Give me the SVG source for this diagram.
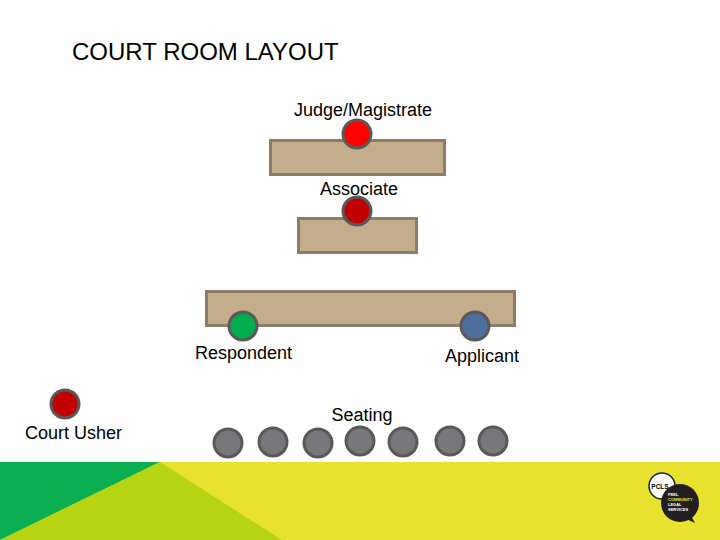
<svg xmlns="http://www.w3.org/2000/svg" width="720" height="540" viewBox="0 0 720 540">
<style>
text{font-family:"Liberation Sans",Arial,sans-serif;fill:#000;font-size:18px}
.b{fill:#c4ad8b;stroke:#8c7d69;stroke-width:3}
.p{stroke:#595959;stroke-width:3}
.s{fill:#77787b}
</style>
<rect width="720" height="540" fill="#fff"/>
<g id="footer">
<rect x="0" y="462" width="720" height="78" fill="#e8e22f"/>
<polygon points="0,462 160,462 0,540" fill="#0bae50"/>
<polygon points="160,462 282,540 0,540" fill="#b7d412"/>
</g>
<g id="logo">
<circle cx="662" cy="486" r="13" fill="#fff" stroke="#222" stroke-width="1.5"/>
<text x="660" y="489" text-anchor="middle" style="font-size:6.500px;font-weight:bold">PCLS</text>
<circle cx="680" cy="503" r="19" fill="#231f20"/>
<polygon points="684,518 695,523 688,510" fill="#231f20"/>
<g style="font-weight:bold">
<text x="668" y="496" style="font-size:4px;fill:#fff">PEEL</text>
<text x="668" y="501" style="font-size:4px;fill:#e8e22f">COMMUNITY</text>
<text x="668" y="506" style="font-size:4px;fill:#fff">LEGAL</text>
<text x="668" y="511" style="font-size:4px;fill:#fff">SERVICES</text>
</g>
</g>
<text id="title" x="72" y="60" style="font-size:24px">COURT ROOM LAYOUT</text>
<g id="bench"><rect class="b" x="270.500" y="140.500" width="174" height="34"/></g>
<g id="associate-desk"><rect class="b" x="298.500" y="218.500" width="118" height="34"/></g>
<g id="bar-table"><rect class="b" x="206.500" y="291.500" width="308" height="34"/></g>
<g id="judge"><circle class="p" cx="357" cy="134" r="14" fill="#fe0000"/><text x="363" y="115.500" text-anchor="middle">Judge/Magistrate</text></g>
<g id="associate"><circle class="p" cx="357" cy="211" r="14" fill="#c00000"/><text x="359" y="194.500" text-anchor="middle">Associate</text></g>
<g id="respondent"><circle class="p" cx="243" cy="326" r="14" fill="#00ae50"/><text x="243.500" y="359" text-anchor="middle">Respondent</text></g>
<g id="applicant"><circle class="p" cx="475" cy="326" r="14" fill="#4f6f9f"/><text x="482" y="361.500" text-anchor="middle">Applicant</text></g>
<g id="usher"><circle class="p" cx="65" cy="404" r="14" fill="#c00000"/><text x="73.500" y="439" text-anchor="middle">Court Usher</text></g>
<g id="seating">
<text x="362" y="421" text-anchor="middle">Seating</text>
<circle class="p s" cx="228" cy="443" r="14"/>
<circle class="p s" cx="273" cy="442" r="14"/>
<circle class="p s" cx="318" cy="443" r="14"/>
<circle class="p s" cx="360" cy="441" r="14"/>
<circle class="p s" cx="403" cy="442" r="14"/>
<circle class="p s" cx="450" cy="441" r="14"/>
<circle class="p s" cx="493" cy="441" r="14"/>
</g>
</svg>
